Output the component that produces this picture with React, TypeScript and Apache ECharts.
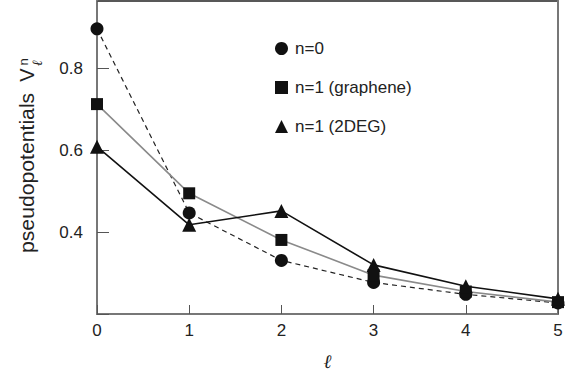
import { useEffect, useRef } from "react";
import * as echarts from "echarts";

const ells = [0, 1, 2, 3, 4, 5];
const seriesNames = ["n=0", "n=1 (graphene)", "n=1 (2DEG)"];
const n0 = [0.897, 0.447, 0.331, 0.277, 0.248, 0.227];
const n1Graphene = [0.713, 0.495, 0.381, 0.295, 0.255, 0.229];
const n1TwoDEG = [0.609, 0.418, 0.452, 0.32, 0.268, 0.237];
const yLabelShown = [0.4, 0.6, 0.8];

const FONT = "'Liberation Sans', Arial, sans-serif";

export default function App() {
  const ref = useRef<HTMLDivElement>(null);
  useEffect(() => {
    if (!ref.current) return;
    const chart = echarts.init(ref.current, undefined, { renderer: "svg" });
    const pts = (arr: number[]) => ells.map((x, i) => [x, arr[i]]);
    chart.setOption({
      animation: false,
      backgroundColor: "#fff",
      grid: {
        left: 97,
        right: 15,
        top: 1,
        bottom: 58,
        show: true,
        borderColor: "#222",
        borderWidth: 1.5,
      },
      legend: {
        orient: "vertical",
        left: 275,
        top: 40,
        padding: 0,
        itemWidth: 13,
        itemHeight: 13,
        itemGap: 22,
        textStyle: { fontFamily: FONT, fontSize: 17, color: "#222", padding: [0, 0, 0, 2] },
        data: [
          { name: seriesNames[0], icon: "circle" },
          { name: seriesNames[1], icon: "rect" },
          { name: seriesNames[2], icon: "triangle" },
        ],
      },
      xAxis: {
        type: "value",
        min: 0,
        max: 5,
        interval: 1,
        name: "ℓ",
        nameLocation: "middle",
        nameGap: 37,
        nameTextStyle: {
          fontFamily: "'DejaVu Serif', serif",
          fontStyle: "italic",
          fontSize: 19,
          color: "#222",
        },
        axisLine: { show: true, lineStyle: { color: "#777", width: 2 } },
        axisTick: { show: true, inside: true, length: 9, lineStyle: { color: "#555", width: 1 } },
        axisLabel: { fontFamily: FONT, fontSize: 17, color: "#222", margin: 8 },
        splitLine: { show: false },
      },
      yAxis: [
        {
          type: "value",
          min: 0.2,
          max: 0.965,
          interval: 0.2,
          axisLine: { show: true, lineStyle: { color: "#777", width: 2 } },
          axisTick: { show: true, inside: true, length: 12, lineStyle: { color: "#555", width: 1 } },
          axisLabel: {
            fontFamily: FONT,
            fontSize: 17,
            color: "#222",
            margin: 14,
            formatter: (v: number) => {
              const hit = yLabelShown.find((t) => Math.abs(t - v) < 1e-6);
              return hit !== undefined ? hit.toFixed(1) : "";
            },
          },
          splitLine: { show: false },
        },
        {
          type: "value",
          position: "right",
          min: 0.2,
          max: 0.965,
          interval: 0.2,
          axisLine: { show: true, lineStyle: { color: "#777", width: 2 } },
          axisTick: { show: false },
          axisLabel: { show: false },
          splitLine: { show: false },
        },
      ],
      graphic: [
        {
          type: "text",
          x: 27,
          y: 253,
          rotation: Math.PI / 2,
          scaleX: 1.06,
          style: {
            text: "pseudopotentials",
            fontFamily: FONT,
            fontSize: 20,
            fill: "#222",
            align: "left",
            verticalAlign: "middle",
          },
        },
        {
          type: "text",
          x: 27,
          y: 75,
          rotation: Math.PI / 2,
          style: {
            text: "V",
            fontFamily: FONT,
            fontSize: 20,
            fill: "#222",
            align: "center",
            verticalAlign: "middle",
          },
        },
        {
          type: "text",
          x: 23,
          y: 62,
          rotation: Math.PI / 2,
          style: {
            text: "n",
            fontFamily: FONT,
            fontSize: 13,
            fill: "#222",
            align: "center",
            verticalAlign: "middle",
          },
        },
        {
          type: "text",
          x: 37,
          y: 63,
          rotation: Math.PI / 2,
          style: {
            text: "ℓ",
            fontFamily: "'DejaVu Serif', serif",
            fontStyle: "italic",
            fontSize: 14,
            fill: "#222",
            align: "center",
            verticalAlign: "middle",
          },
        },
      ],
      series: [
        {
          name: seriesNames[0],
          type: "line",
          data: pts(n0),
          symbol: "circle",
          symbolSize: 13,
          clip: false,
          itemStyle: { color: "#111" },
          lineStyle: { color: "#222", width: 1.2, type: [5, 4] },
          z: 3,
        },
        {
          name: seriesNames[1],
          type: "line",
          data: pts(n1Graphene),
          symbol: "rect",
          symbolSize: 12,
          clip: false,
          itemStyle: { color: "#111" },
          lineStyle: { color: "#8a8a8a", width: 1.6 },
          z: 3,
        },
        {
          name: seriesNames[2],
          type: "line",
          data: pts(n1TwoDEG),
          symbol: "triangle",
          symbolSize: 14,
          clip: false,
          itemStyle: { color: "#111" },
          lineStyle: { color: "#111", width: 1.6 },
          z: 3,
        },
      ],
    });
    return () => chart.dispose();
  }, []);
  return (
    <div
      ref={ref}
      style={{ position: "fixed", left: 0, top: 0, width: 573, height: 375 }}
    />
  );
}
